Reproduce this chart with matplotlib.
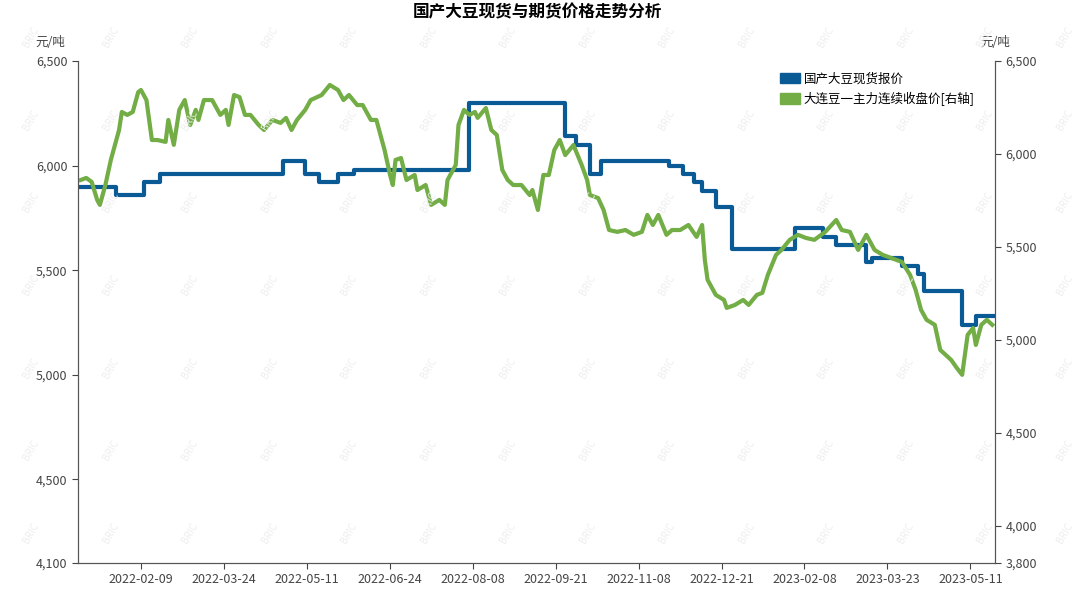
import matplotlib.pyplot as plt
from matplotlib.patches import Patch

plt.rcParams['font.family'] = ['Noto Sans CJK SC', 'DejaVu Sans']

# spot price steps: (start trading-day index, price)
spot_steps = [(0, 5900), (14, 5860), (24, 5920), (30, 5960), (75, 6020), (83, 5960),
              (88, 5920), (95, 5960), (101, 5980), (143, 6300), (178, 6140), (182, 6100),
              (187, 5960), (191, 6020), (216, 6000), (221, 5960), (225, 5920), (228, 5880),
              (233, 5800), (239, 5600), (262, 5700), (272, 5660), (277, 5620), (288, 5540),
              (290, 5560), (301, 5520), (307, 5480), (309, 5400), (323, 5240), (328, 5280)]
end_day = 335

fut_days = [1, 3, 5, 7, 8, 10, 12, 15, 16, 18, 20, 22, 23, 25, 27, 29, 32, 33, 35, 37, 39, 41, 43, 44,
            46, 49, 52, 54, 55, 57, 59, 61, 63, 66, 68, 71, 74, 76, 78, 80, 83, 85, 89, 92, 95, 97,
            99, 102, 104, 107, 109, 112, 114, 115, 116, 118, 120, 123, 124, 127, 129, 132, 134, 135,
            138, 139, 141, 143, 145, 146, 149, 151, 153, 155, 157, 159, 162, 165, 166, 168, 170, 172,
            174, 176, 178, 181, 184, 186, 187, 190, 192, 194, 197, 200, 203, 206, 208, 210, 212, 215,
            217, 220, 223, 226, 228, 229, 230, 233, 236, 237, 240, 243, 245, 248, 250, 252, 255, 257,
            260, 263, 266, 269, 273, 277, 279, 282, 285, 288, 291, 294, 297, 301, 304, 306, 308, 310,
            313, 315, 317, 319, 321, 323, 325, 327, 328, 330, 332, 334]
fut_vals = [5860, 5871, 5850, 5753, 5726, 5833, 5968, 6129, 6226, 6210, 6226, 6333, 6344, 6290,
            6075, 6075, 6065, 6183, 6049, 6237, 6290, 6156, 6237, 6183, 6290, 6290, 6210, 6237,
            6156, 6317, 6306, 6210, 6210, 6156, 6129, 6183, 6167, 6194, 6129, 6183, 6237, 6290,
            6317, 6371, 6344, 6290, 6317, 6263, 6263, 6183, 6183, 6021, 5887, 5833, 5968, 5978,
            5860, 5887, 5806, 5833, 5726, 5753, 5726, 5860, 5941, 6156, 6237, 6210, 6226, 6194,
            6247, 6129, 6102, 5914, 5860, 5833, 5833, 5779, 5806, 5699, 5887, 5887, 6021, 6075,
            5994, 6048, 5941, 5860, 5779, 5763, 5699, 5591, 5581, 5591, 5565, 5581, 5672, 5618,
            5672, 5565, 5591, 5591, 5618, 5554, 5618, 5430, 5323, 5242, 5215, 5172, 5188, 5215,
            5188, 5242, 5253, 5349, 5457, 5484, 5538, 5565, 5548, 5538, 5581, 5645, 5591, 5581,
            5484, 5565, 5484, 5457, 5441, 5419, 5349, 5269, 5161, 5108, 5081, 4946, 4919, 4892,
            4850, 4812, 5027, 5064, 4973, 5081, 5108, 5081]

tick_labels = ['2022-02-09', '2022-03-24', '2022-05-11', '2022-06-24', '2022-08-08', '2022-09-21',
               '2022-11-08', '2022-12-21', '2023-02-08', '2023-03-23', '2023-05-11']
tick_days = [23 + 30.3 * i for i in range(len(tick_labels))]

blue = '#0a5a96'
green = '#72ad45'

fig = plt.figure(figsize=(10.74, 5.90), dpi=100)
ax = fig.add_axes([78 / 1074, 27 / 590, 917 / 1074, 502 / 590])
ax2 = ax.twinx()

sx = [d for d, _ in spot_steps] + [end_day]
sy = [v for _, v in spot_steps] + [spot_steps[-1][1]]
ax.step(sx, sy, where='post', color=blue, lw=3)
ax2.plot(fut_days, fut_vals, color=green, lw=3)

ax.set_xlim(0, end_day)
ax.set_ylim(4100, 6500)
ax.set_yticks([4100, 4500, 5000, 5500, 6000, 6500])
ax.set_yticklabels(['4,100', '4,500', '5,000', '5,500', '6,000', '6,500'])
ax2.set_ylim(3800, 6500)
ax2.set_yticks([3800, 4000, 4500, 5000, 5500, 6000, 6500])
ax2.set_yticklabels(['3,800', '4,000', '4,500', '5,000', '5,500', '6,000', '6,500'])
ax.set_xticks(tick_days)
ax.set_xticklabels(tick_labels)

for a in (ax, ax2):
    a.spines['top'].set_visible(False)
    for s in ('left', 'right', 'bottom'):
        a.spines[s].set_color('#555555')
    a.tick_params(labelsize=9, colors='#444444', length=4)

# faint watermark
for i in range(14):
    for j in range(7):
        fig.text(0.02 + i * 0.074, 0.08 + j * 0.14, 'BRIC', color='#eeeeee', fontsize=7,
                 rotation=60, zorder=0)

ax.text(-0.03, 1.03, '元/吨', transform=ax.transAxes, fontsize=9, color='#444444', ha='center')
ax.text(1.0, 1.03, '元/吨', transform=ax.transAxes, fontsize=9, color='#444444', ha='center')
fig.suptitle('国产大豆现货与期货价格走势分析', fontsize=12, fontweight='bold', y=0.995, x=0.5)

handles = [Patch(color=blue, label='国产大豆现货报价'), Patch(color=green, label='大连豆一主力连续收盘价[右轴]')]
ax.legend(handles=handles, loc='upper right', bbox_to_anchor=(0.99, 1.0), frameon=False,
          fontsize=9, handlelength=1.6, handleheight=0.9, handletextpad=0.3)

fig.savefig('out.png')
